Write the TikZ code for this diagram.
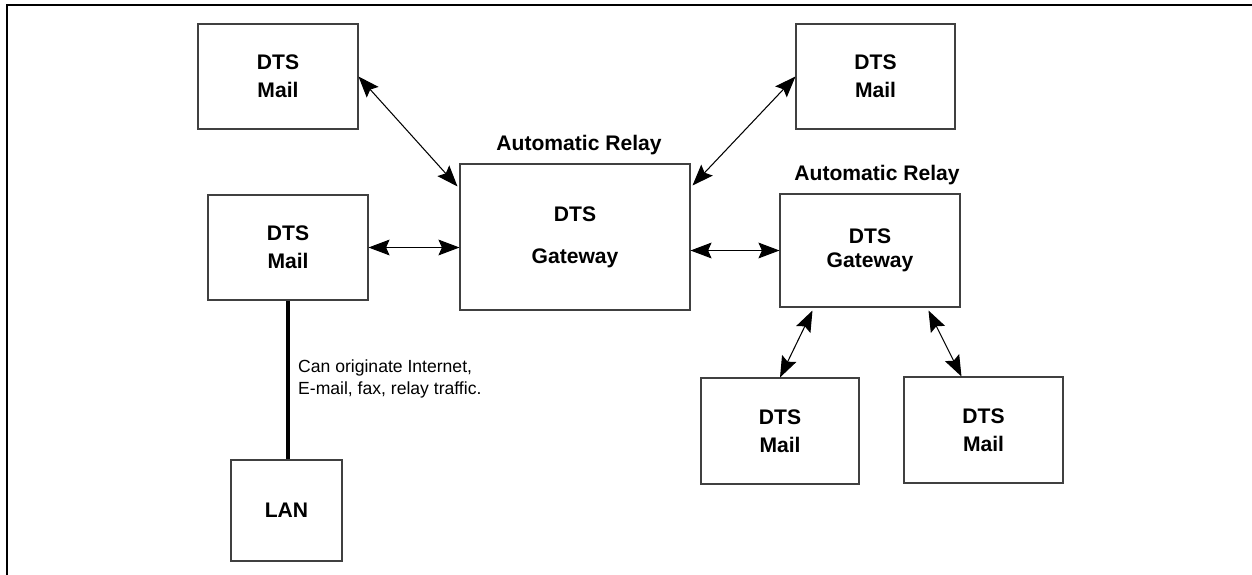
\documentclass[tikz,border=0pt]{standalone}
\usepackage{fontspec}
\setmainfont{Liberation Sans}
\usetikzlibrary{arrows.meta,calc,positioning}

\tikzset{
  sysbox/.style={draw=black!75, line width=0.6pt, inner sep=0pt, align=center,
    font=\bfseries\fontsize{12}{16}\selectfont},
  relaylabel/.style={font=\bfseries\fontsize{12}{14}\selectfont},
  link/.style={line width=0.6pt, {Stealth[length=12pt,width=9pt,inset=2pt]}-{Stealth[length=12pt,width=9pt,inset=2pt]}},
}

\begin{document}
\begin{tikzpicture}[x=0.02cm, y=-0.02cm]
        \useasboundingbox (0,0) rectangle (1252,575);
        % Rahmen
        \draw[line width=1pt] (7,575) -- (7,5) -- (1252,5);

        % Knoten
        \node[sysbox, minimum width=3.2cm, minimum height=2.1cm] (mailNW) at (278,76.5) {DTS\\Mail};
        \node[sysbox, minimum width=3.2cm, minimum height=2.1cm] (mailW) at (288,247.5) {DTS\\Mail};
        \node[sysbox, minimum width=4.6cm, minimum height=2.92cm, font=\bfseries\fontsize{12}{24}\selectfont] (gwMain) at (575,237) {DTS\\Gateway};
        \node[sysbox, minimum width=3.18cm, minimum height=2.1cm] (mailNE) at (875.5,76.5) {DTS\\Mail};
        \node[sysbox, minimum width=3.6cm, minimum height=2.26cm, font=\bfseries\fontsize{12}{14}\selectfont] (gwEast) at (870,250.5) {DTS\\Gateway};
        \node[sysbox, minimum width=3.16cm, minimum height=2.12cm] (mailS1) at (780,431) {DTS\\Mail};
        \node[sysbox, minimum width=3.18cm, minimum height=2.12cm] (mailS2) at (983.5,430) {DTS\\Mail};
        \node[sysbox, minimum width=2.22cm, minimum height=2.02cm] (lan) at (286.5,510.5) {LAN};

        \node[relaylabel] (relayMain) at (579,145) {Automatic Relay};
        \node[relaylabel] (relayEast) at (877,175) {Automatic Relay};

        % Verbindungen
        \draw[link] (mailNW.east) -- ($(gwMain.north west)+(-2,23)$);
        \draw[link] (mailNE.west) -- ($(gwMain.north east)+(2,22)$);
        \draw[link] (mailW.east) -- (mailW.east -| gwMain.west);
        \draw[link] (gwEast.west -| gwMain.east) -- (gwEast.west);
        \draw[link] ($(gwEast.south west)+(33,3)$) -- (mailS1.north);
        \draw[link] ($(gwEast.south east)+(-32,3)$) -- ($(mailS2.north west)+(58,0)$);

        % LAN
        \draw[line width=2pt] (mailW.south) -- (mailW.south |- lan.north);
        \node[anchor=west, align=left, font=\fontsize{10}{12.5}\selectfont] (note) at (292,379)
          {Can originate Internet,\\E-mail, fax, relay traffic.};
\end{tikzpicture}
\end{document}
